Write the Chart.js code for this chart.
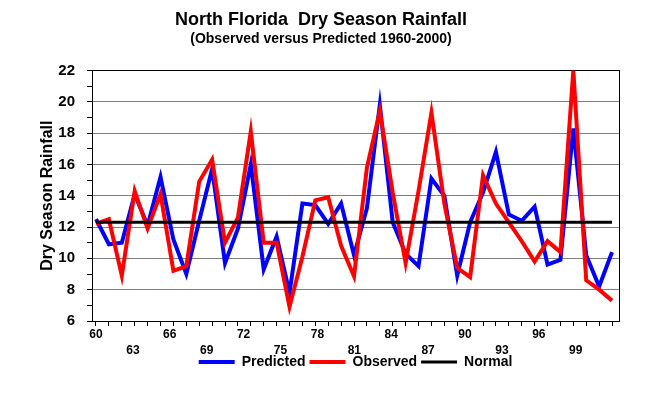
<!DOCTYPE html>
<html>
<head>
<meta charset="utf-8">
<title>North Florida Dry Season Rainfall</title>
<script src="https://cdn.jsdelivr.net/npm/chart.js@4.4.1/dist/chart.umd.min.js"></script>
<style>
    html, body { margin: 0; padding: 0; background: #fff; }
</style>
</head>
<body>
<canvas id="rainChart" width="658" height="395"></canvas>
<script>
// Dry season rainfall, 1960-2000
const years = [
    1960, 1961, 1962, 1963, 1964, 1965, 1966, 1967, 1968, 1969,
    1970, 1971, 1972, 1973, 1974, 1975, 1976, 1977, 1978, 1979,
    1980, 1981, 1982, 1983, 1984, 1985, 1986, 1987, 1988, 1989,
    1990, 1991, 1992, 1993, 1994, 1995, 1996, 1997, 1998, 1999, 2000
];
const predicted = [
    12.5, 10.9, 11.0, 14.1, 12.1, 15.2, 11.2, 9.0, 12.4, 15.7,
    9.7, 11.9, 16.0, 9.3, 11.4, 7.8, 13.5, 13.4, 12.2, 13.5,
    10.2, 13.2, 19.8, 12.3, 10.3, 9.5, 15.1, 14.0, 8.9, 12.3,
    14.2, 16.8, 12.8, 12.4, 13.3, 9.6, 9.9, 18.3, 10.2, 8.2, 10.4
];
const observed = [
    12.2, 12.5, 8.9, 14.3, 11.9, 14.1, 9.2, 9.5, 14.9, 16.3,
    11.0, 12.6, 18.1, 11.0, 11.0, 6.9, 10.1, 13.7, 13.9, 10.8,
    8.85, 15.8, 19.4, 14.2, 9.7, 14.3, 19.3, 13.5, 9.4, 8.8,
    15.3, 13.5, 12.3, 11.1, 9.8, 11.1, 10.4, 22.0, 8.6, 8.0, 7.3
];
const normalRain = 12.3;

// year labels are printed on two staggered rows
const labelYearsTop = [1960, 1966, 1972, 1978, 1984, 1990, 1996];
const labelYearsBottom = [1963, 1969, 1975, 1981, 1987, 1993, 1999];

Chart.defaults.font.family = '"Liberation Sans", Arial, sans-serif';
Chart.defaults.font.weight = 'bold';
Chart.defaults.color = '#000';

function toPoints(values) {
    return values.map((v, i) => ({ x: years[i], y: v }));
}

function yearLabel(v) {
    const short = String(v).slice(2);
    if (labelYearsTop.includes(v)) return short;
    if (labelYearsBottom.includes(v)) return ['', short];
    return '';
}

// legend sits tucked right under the second row of year labels
const liftLegend = {
    id: 'liftLegend',
    afterLayout(chart) {
        const lg = chart.legend;
        if (!lg) return;
        lg.top -= 12;
        lg.bottom -= 12;
    }
};

const ctx = document.getElementById('rainChart').getContext('2d');

new Chart(ctx, {
    type: 'line',
    data: {
        datasets: [
            {
                label: 'Predicted',
                data: toPoints(predicted),
                borderColor: '#0000ff',
                backgroundColor: '#0000ff',
                borderWidth: 4,
                pointRadius: 0,
                tension: 0,
                order: 3
            },
            {
                label: 'Observed',
                data: toPoints(observed),
                borderColor: '#ff0000',
                backgroundColor: '#ff0000',
                borderWidth: 4,
                pointRadius: 0,
                tension: 0,
                order: 2
            },
            {
                label: 'Normal',
                data: [
                    { x: years[0], y: normalRain },
                    { x: years[years.length - 1], y: normalRain }
                ],
                borderColor: '#000000',
                backgroundColor: '#000000',
                borderWidth: 3,
                pointRadius: 0,
                order: 1
            }
        ]
    },
    plugins: [liftLegend],
    options: {
        responsive: false,
        animation: false,
        devicePixelRatio: 1,
        layout: {
            padding: { left: 0, right: 16, top: 0, bottom: 4 }
        },
        plugins: {
            title: {
                display: true,
                text: 'North Florida  Dry Season Rainfall',
                color: '#000',
                font: { size: 18, weight: 'bold' },
                padding: { top: 9, bottom: 0 }
            },
            subtitle: {
                display: true,
                text: '(Observed versus Predicted 1960-2000)',
                color: '#000',
                font: { size: 14, weight: 'bold' },
                padding: { top: 0, bottom: 23 }
            },
            legend: {
                position: 'bottom',
                fullSize: false,
                labels: {
                    usePointStyle: true,
                    pointStyle: 'line',
                    pointStyleWidth: 36,
                    padding: 4,
                    color: '#000',
                    font: { size: 14, weight: 'bold' },
                    sort: (a, b) => a.datasetIndex - b.datasetIndex
                }
            },
            tooltip: { enabled: false }
        },
        scales: {
            x: {
                type: 'linear',
                min: 1959.69,
                max: 2000.54,
                afterFit: s => { s.height = 6; },
                ticks: { display: false, stepSize: 1, includeBounds: false },
                grid: { color: 'rgba(0,0,0,0)', tickColor: '#000', tickLength: 5 },
                border: { color: '#000', width: 1 }
            },
            xl: {
                type: 'linear',
                position: 'bottom',
                min: 1959.675,
                max: 2002.52,
                afterFit: s => { s.height = 36; },
                ticks: {
                    stepSize: 1,
                    autoSkip: false,
                    maxRotation: 0,
                    includeBounds: false,
                    padding: 0,
                    font: { size: 12, weight: 'bold', lineHeight: 16 / 12 },
                    callback: yearLabel
                },
                grid: { display: false, drawTicks: false },
                border: { display: false }
            },
            y: {
                min: 6,
                max: 22,
                afterFit: s => { s.width = 92; },
                ticks: {
                    stepSize: 1,
                    autoSkip: false,
                    padding: 12,
                    font: { size: 15, weight: 'bold' },
                    callback: v => (v % 2 === 0 ? v : '')
                },
                grid: {
                    color: c => {
                        const v = c.tick.value;
                        if (v === 22) return '#000';
                        if (v % 2 === 0 && v > 6) return '#808080';
                        return 'rgba(0,0,0,0)';
                    },
                    tickColor: '#000',
                    tickLength: 5
                },
                border: { color: '#000', width: 1 },
                title: {
                    display: true,
                    text: 'Dry Season Rainfall',
                    color: '#000',
                    font: { size: 16, weight: 'bold' },
                    padding: { top: 38, bottom: 0 }
                }
            },
            yr: {
                position: 'right',
                afterFit: s => { s.width = 23; },
                ticks: { display: false },
                grid: { display: false, drawTicks: false },
                border: { color: '#000', width: 1 }
            }
        }
    }
});
</script>
</body>
</html>
